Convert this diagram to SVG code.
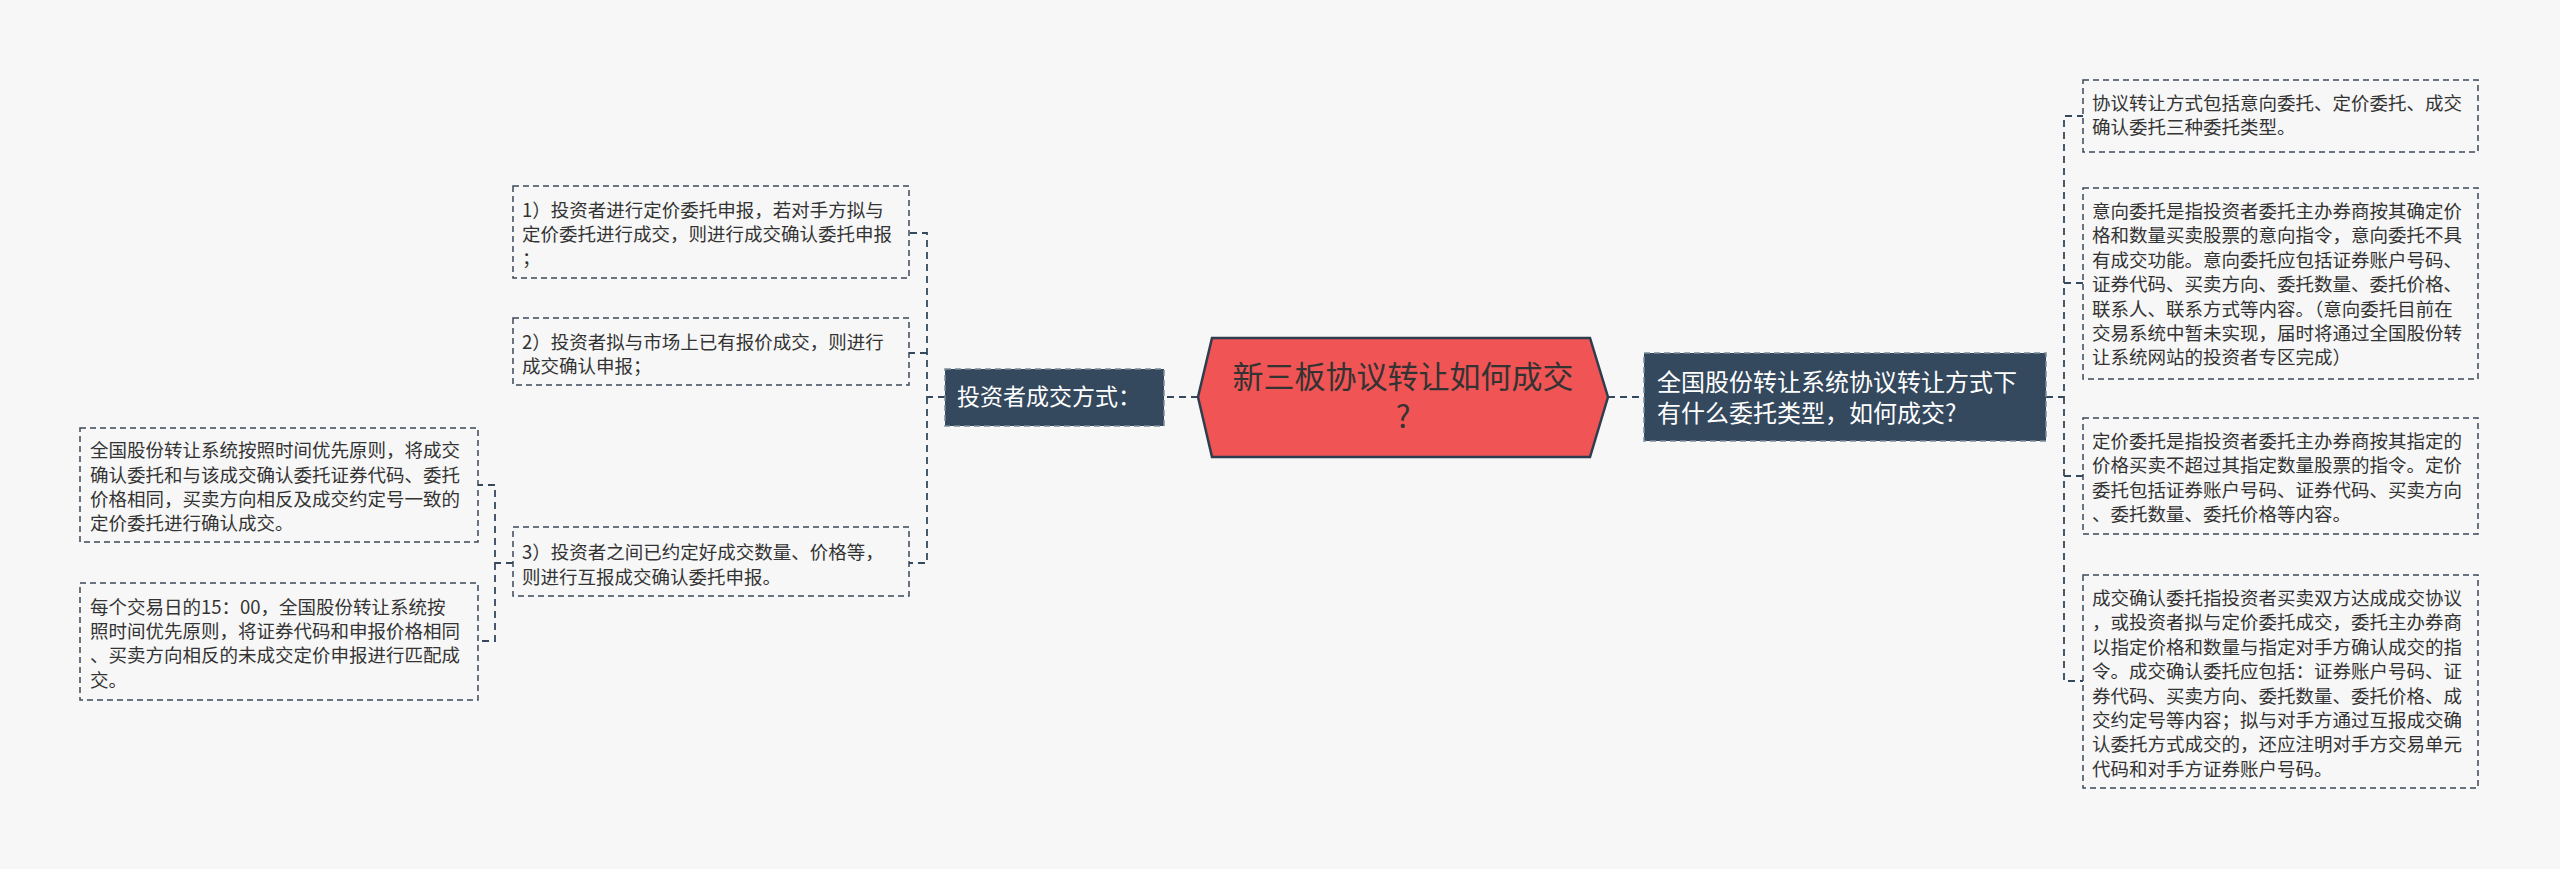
<svg xmlns="http://www.w3.org/2000/svg" width="2560" height="869" viewBox="0 0 2560 869">
<style>
.bg{fill:#f7f7f7}
.leaf{fill:#f7f7f7;stroke:#3d4a5a;stroke-width:1.5;stroke-dasharray:6 4}
.dark{fill:#34495e;stroke:#7f8c99;stroke-width:1.5;stroke-dasharray:6 4}
.c{fill:none;stroke:#34495e;stroke-width:1.8;stroke-dasharray:7 5}
text{font-family:"Noto Sans CJK SC","Noto Sans",sans-serif}
.t{font-size:18.5px;fill:#333}
.w{fill:#fff}
</style>
<rect class="bg" width="2560" height="869"/>
<g id="connectors">
<path class="c" d="M1198 397H1164"/>
<path class="c" d="M1608 397H1644"/>
<path class="c" d="M945 397H927V233H909M927 353H909M927 397V563H909"/>
<path class="c" d="M513 563H495V485H478M495 563V641H478"/>
<path class="c" d="M2046 397H2064V116H2083M2064 283H2083M2064 397V681H2083M2064 476H2083"/>
</g>
<g id="center">
<polygon points="1198,397 1212,338 1590,338 1608,397 1590,457 1212,457" fill="#f05454" stroke="#2f3e4e" stroke-width="2.5"/>
<text x="1403" y="388" font-size="31" fill="#333" text-anchor="middle">新三板协议转让如何成交</text>
<text x="1403" y="428" font-size="31" fill="#333" text-anchor="middle">?</text>
</g>
<g id="left-main">
<rect class="dark" x="945" y="369" width="219" height="57"/>
<text class="w" x="957" y="405" font-size="23">投资者成交方式：</text>
</g>
<g id="right-main">
<rect class="dark" x="1644" y="353" width="402" height="88"/>
<text class="w" x="1657" y="391" font-size="24">全国股份转让系统协议转让方式下</text>
<text class="w" x="1657" y="422" font-size="24">有什么委托类型，如何成交?</text>
</g>
<g id="l1"><rect class="leaf" x="513" y="186" width="396" height="92"/>
<text class="t" x="522" y="217">1）投资者进行定价委托申报，若对手方拟与</text>
<text class="t" x="522" y="241">定价委托进行成交，则进行成交确认委托申报</text>
<text class="t" x="522" y="265">；</text></g>
<g id="l2"><rect class="leaf" x="513" y="318" width="396" height="67"/>
<text class="t" x="522" y="349">2）投资者拟与市场上已有报价成交，则进行</text>
<text class="t" x="522" y="373">成交确认申报；</text></g>
<g id="l3"><rect class="leaf" x="513" y="527" width="396" height="69"/>
<text class="t" x="522" y="559">3）投资者之间已约定好成交数量、价格等，</text>
<text class="t" x="522" y="584">则进行互报成交确认委托申报。</text></g>
<g id="la"><rect class="leaf" x="80" y="428" width="398" height="114"/>
<text class="t" x="90" y="457">全国股份转让系统按照时间优先原则，将成交</text>
<text class="t" x="90" y="482">确认委托和与该成交确认委托证券代码、委托</text>
<text class="t" x="90" y="506">价格相同，买卖方向相反及成交约定号一致的</text>
<text class="t" x="90" y="530">定价委托进行确认成交。</text></g>
<g id="lb"><rect class="leaf" x="80" y="583" width="398" height="117"/>
<text class="t" x="90" y="614">每个交易日的15：00，全国股份转让系统按</text>
<text class="t" x="90" y="638">照时间优先原则，将证券代码和申报价格相同</text>
<text class="t" x="90" y="662">、买卖方向相反的未成交定价申报进行匹配成</text>
<text class="t" x="90" y="687">交。</text></g>
<g id="r1"><rect class="leaf" x="2083" y="80" width="395" height="72"/>
<text class="t" x="2092" y="110">协议转让方式包括意向委托、定价委托、成交</text>
<text class="t" x="2092" y="134">确认委托三种委托类型。</text></g>
<g id="r2"><rect class="leaf" x="2083" y="188" width="395" height="191"/>
<text class="t" x="2092" y="218">意向委托是指投资者委托主办券商按其确定价</text>
<text class="t" x="2092" y="242">格和数量买卖股票的意向指令，意向委托不具</text>
<text class="t" x="2092" y="267">有成交功能。意向委托应包括证券账户号码、</text>
<text class="t" x="2092" y="291">证券代码、买卖方向、委托数量、委托价格、</text>
<text class="t" x="2092" y="316">联系人、联系方式等内容。（意向委托目前在</text>
<text class="t" x="2092" y="340">交易系统中暂未实现，届时将通过全国股份转</text>
<text class="t" x="2092" y="364">让系统网站的投资者专区完成）</text></g>
<g id="r3"><rect class="leaf" x="2083" y="418" width="395" height="116"/>
<text class="t" x="2092" y="448">定价委托是指投资者委托主办券商按其指定的</text>
<text class="t" x="2092" y="472">价格买卖不超过其指定数量股票的指令。定价</text>
<text class="t" x="2092" y="497">委托包括证券账户号码、证券代码、买卖方向</text>
<text class="t" x="2092" y="521">、委托数量、委托价格等内容。</text></g>
<g id="r4"><rect class="leaf" x="2083" y="575" width="395" height="213"/>
<text class="t" x="2092" y="605">成交确认委托指投资者买卖双方达成成交协议</text>
<text class="t" x="2092" y="629">，或投资者拟与定价委托成交，委托主办券商</text>
<text class="t" x="2092" y="654">以指定价格和数量与指定对手方确认成交的指</text>
<text class="t" x="2092" y="678">令。成交确认委托应包括：证券账户号码、证</text>
<text class="t" x="2092" y="703">券代码、买卖方向、委托数量、委托价格、成</text>
<text class="t" x="2092" y="727">交约定号等内容；拟与对手方通过互报成交确</text>
<text class="t" x="2092" y="751">认委托方式成交的，还应注明对手方交易单元</text>
<text class="t" x="2092" y="776">代码和对手方证券账户号码。</text></g>
</svg>
